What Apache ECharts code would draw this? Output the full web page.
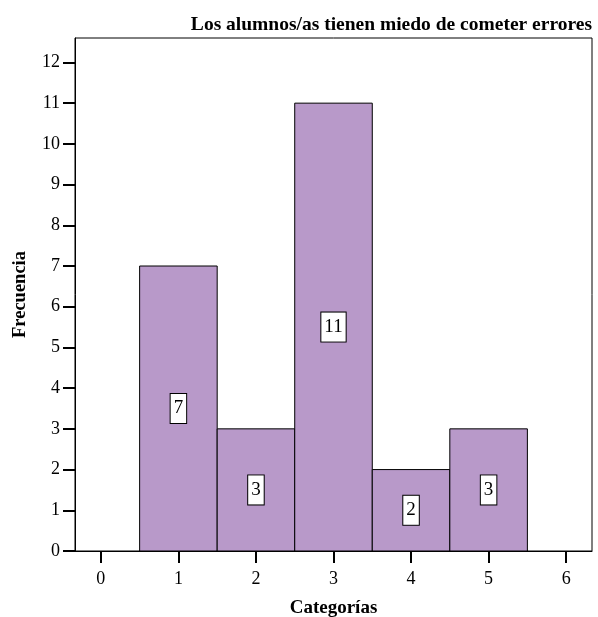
<!DOCTYPE html>
<html>
<head>
<meta charset="utf-8">
<script src="https://cdn.jsdelivr.net/npm/echarts@6/dist/echarts.min.js"></script>
<style>html,body{margin:0;padding:0;background:#fff;}#c{width:598px;height:617px;}</style>
</head>
<body>
<div id="c"></div>
<script>
const titleText = "Los alumnos/as tienen miedo de cometer errores";
const categories = [1, 2, 3, 4, 5];
const frequencies = [7, 3, 11, 2, 3];
const xTicks = [0, 1, 2, 3, 4, 5, 6];
const yTicks = [0, 1, 2, 3, 4, 5, 6, 7, 8, 9, 10, 11, 12];

const FONT = '"Liberation Serif", "Times New Roman", serif';
const chart = echarts.init(document.getElementById('c'));
const data = categories.map((c, i) => [c, frequencies[i]]);

chart.setOption({
  animation: false,
  title: {
    text: titleText, right: 1, top: 10,
    textStyle: { fontFamily: FONT, fontWeight: 'bold', fontSize: 19.5, color: '#000' }
  },
  grid: { left: 75, right: 6, top: 38, bottom: 66, outerBoundsMode: 'none', containLabel: false,
    show: true, borderColor: '#000', borderWidth: 1, backgroundColor: 'transparent' },
  xAxis: {
    type: 'value', min: -1/3, max: 6 + 1/3,
    name: 'Categorías', nameLocation: 'middle', nameGap: 48,
    nameTextStyle: { fontFamily: FONT, fontWeight: 'bold', fontSize: 19, color: '#000' },
    axisLine: { show: true, onZero: false, lineStyle: { color: '#000', width: 1 } },
    axisTick: { show: true, inside: false, length: 12, customValues: xTicks, lineStyle: { color: '#000', width: 2 } },
    axisLabel: { customValues: xTicks, margin: 19, fontFamily: FONT, fontSize: 18, color: '#000' },
    splitLine: { show: false }
  },
  yAxis: {
    type: 'value', min: 0, max: 12.6,
    name: 'Frecuencia', nameLocation: 'middle', nameGap: 45, nameRotate: 90,
    nameTextStyle: { fontFamily: FONT, fontWeight: 'bold', fontSize: 18.5, color: '#000' },
    axisLine: { show: true, onZero: false, lineStyle: { color: '#000', width: 1 } },
    axisTick: { show: true, inside: false, length: 12, customValues: yTicks, lineStyle: { color: '#000', width: 2 } },
    axisLabel: { customValues: yTicks, margin: 15, fontFamily: FONT, fontSize: 18, color: '#000' },
    splitLine: { show: false }
  },
  series: [{
    type: 'custom',
    data: data,
    renderItem: function (params, api) {
      const x = api.value(0), y = api.value(1);
      const p0 = api.coord([x - 0.5, 0]);
      const p1 = api.coord([x + 0.5, y]);
      const mid = api.coord([x, y / 2]);
      return {
        type: 'group',
        children: [
          { type: 'rect', shape: { x: p0[0], y: p1[1], width: p1[0] - p0[0], height: p0[1] - p1[1] },
            style: { fill: '#b899c9', stroke: '#000', lineWidth: 1 } },
          { type: 'text', x: mid[0], y: mid[1],
            style: { text: String(y), align: 'center', verticalAlign: 'middle',
              fontFamily: FONT, fontSize: 19, lineHeight: 21, fill: '#000',
              backgroundColor: '#fff', borderColor: '#000', borderWidth: 1, padding: [4, 3] } }
        ]
      };
    }
  }]
});
</script>
</body>
</html>
